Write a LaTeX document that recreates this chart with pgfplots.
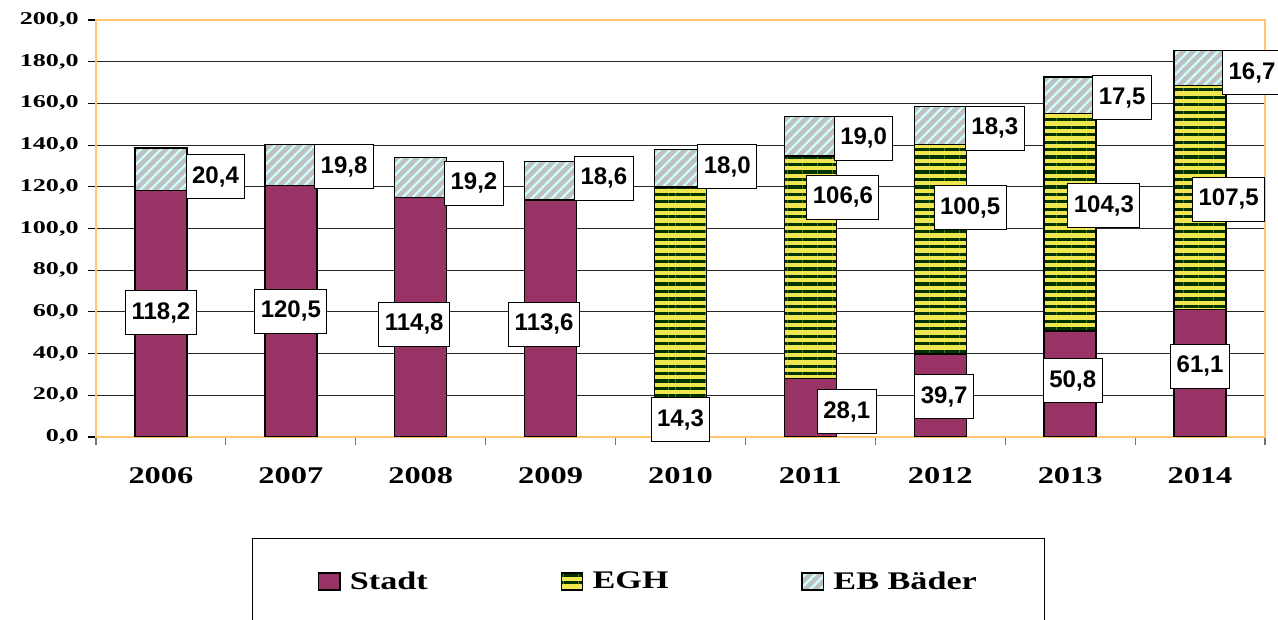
\documentclass[border=0pt]{standalone}
\usepackage{fontspec}
\usepackage{pgfplots}
\pgfplotsset{compat=1.18}
\usepackage{pgfplotstable}
\usetikzlibrary{patterns.meta}
\setmainfont{Liberation Serif}
\newfontfamily\serifwide[FakeStretch=1.35]{Liberation Serif}
\newfontfamily\serifwider[FakeStretch=1.45]{Liberation Serif}
\newfontfamily\labfont{Liberation Sans}

\definecolor{stadt}{HTML}{993366}
\definecolor{eghyellow}{HTML}{F0E650}
\definecolor{eghgreen}{HTML}{003300}
\definecolor{badgray}{HTML}{C0C0C0}
\definecolor{badcyan}{HTML}{CCFFFF}
\definecolor{frameorange}{HTML}{FFC66E}

\pgfplotstableread{
x stadt egh baeder
0 118.2 0 20.4
1 120.5 0 19.8
2 114.8 0 19.2
3 113.6 0 18.6
4 14.3 105.5 18.0
5 28.1 106.6 19.0
6 39.7 100.5 18.3
7 50.8 104.3 17.5
8 61.1 107.5 16.7
}\bars

\pgfplotstableread{
x y label
0.00 59.5 118,2
1.00 60.4 120,5
1.95 54.0 114,8
2.95 54.0 113,6
4.00 8.2 14,3
5.28 12.0 28,1
6.03 19.2 39,7
7.02 26.9 50,8
8.00 34.0 61,1
5.25 115.0 106,6
6.23 110.0 100,5
7.26 111.0 104,3
8.22 114.0 107,5
0.42 124.7 20,4
1.41 129.5 19,8
2.41 121.8 19,2
3.41 124.0 18,6
4.36 129.7 18,0
5.41 143.4 19,0
6.42 148.0 18,3
7.40 162.6 17,5
8.40 174.6 16,7
}\labels

\begin{document}
\begin{tikzpicture}
\begin{axis}[
  scale only axis, width=876.75pt, height=312.75pt,
  ybar stacked, bar width=39pt,
  xmin=-0.5, xmax=8.5, ymin=0, ymax=200,
  xtick={-0.5,0.5,1.5,2.5,3.5,4.5,5.5,6.5,7.5,8.5},
  x tick label as interval,
  xticklabels={2006,2007,2008,2009,2010,2011,2012,2013,2014},
  ytick={0,20,...,200},
  xtick pos=bottom, ytick pos=left,
  tick align=outside, major tick length=6pt,
  ymajorgrids, grid style={black!85, line width=0.6pt},
  axis line style={frameorange, line width=1.2pt},
  xtick style={black!55, line width=0.9pt},
  ytick style={black, line width=0.8pt},
  yticklabel style={font=\serifwider\bfseries\fontsize{13.5}{14}\selectfont, xshift=-3.5pt,
    /pgf/number format/.cd, fixed, fixed zerofill, precision=1, use comma, 1000 sep={}, assume math mode=true},
  xticklabel style={font=\serifwide\bfseries\fontsize{18}{20}\selectfont, yshift=-13pt},
  legend image code/.code={\draw[#1, draw=black, line width=1.1pt] (0pt,-6.5pt) rectangle (16pt,6.5pt); \path (21pt,0pt);},
  legend columns=3,
  legend style={at={(0.1334,-0.242)}, anchor=north west, draw=black, line width=0.75pt,
    font=\serifwide\bfseries\fontsize{19}{21}\selectfont,
    inner xsep=49pt, inner ysep=23pt,
    /tikz/every even column/.append style={column sep=97.5pt}},
]
\addplot[fill=stadt, draw=black, line width=1.1pt] table[x=x,y=stadt]{\bars};
\addlegendentry{Stadt}
\addplot[fill=eghyellow, draw=black, line width=1.1pt,
  postaction={pattern={Lines[angle=0,distance=5.6pt,line width=2.4pt]}, pattern color=eghgreen}]
  table[x=x,y=egh]{\bars};
\addlegendentry{EGH}
\addplot[fill=badgray, draw=black, line width=1.1pt,
  postaction={pattern={Lines[angle=45,distance=5.3pt,line width=1.7pt]}, pattern color=badcyan}]
  table[x=x,y=baeder]{\bars};
\addlegendentry{EB Bäder}
\end{axis}
\begin{axis}[
  scale only axis, width=876.75pt, height=312.75pt,
  xmin=-0.5, xmax=8.5, ymin=0, ymax=200, hide axis, clip=false]
\addplot[draw=none, mark=none, nodes near coords, point meta=explicit symbolic,
  nodes near coords style={draw=black, fill=white, line width=0.75pt,
    font=\labfont\bfseries\fontsize{18}{20}\selectfont,
    inner xsep=4.5pt, inner ysep=0pt, minimum height=33pt, anchor=center}]
  table[x=x,y=y,meta=label]{\labels};
\end{axis}
\pgfresetboundingbox
\useasboundingbox (-72pt,-137.25pt) rectangle (886.5pt,327.75pt);
\end{tikzpicture}
\end{document}
